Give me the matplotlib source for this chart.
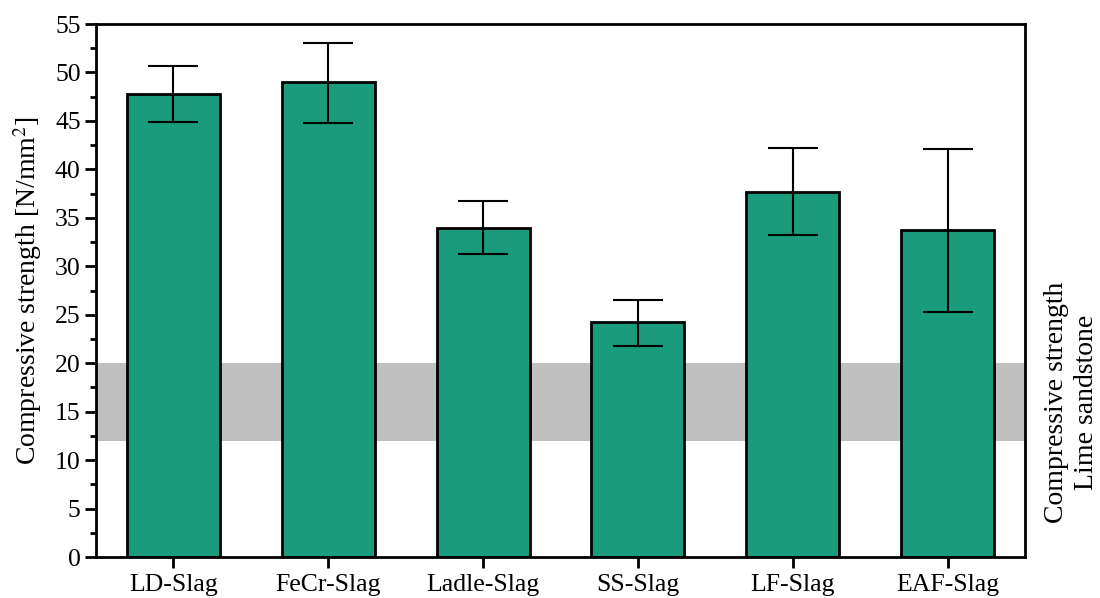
import matplotlib
matplotlib.use("Agg")
import matplotlib.pyplot as plt
from matplotlib.ticker import MultipleLocator

categories = ["LD-Slag", "FeCr-Slag", "Ladle-Slag", "SS-Slag", "LF-Slag", "EAF-Slag"]
means = [47.8, 49.0, 34.0, 24.2, 37.7, 33.7]
err_up = [2.9, 4.0, 2.7, 2.35, 4.5, 8.4]
err_down = [2.9, 4.2, 2.7, 2.4, 4.5, 8.4]
band_low, band_high = 12, 20
band_label = "Compressive strength\nLime sandstone"

plt.rcParams['font.family'] = ['Liberation Serif', 'DejaVu Serif']
plt.rcParams['mathtext.fontset'] = 'stix'

fig = plt.figure(figsize=(11, 5.98), dpi=100)
ax = fig.add_axes([96/1100, 1 - 557/598, (1025-96)/1100, (557-24)/598])

x = list(range(len(categories)))
ax.axhspan(band_low, band_high, color='#c0c0c0', zorder=0, lw=0)
ax.bar(x, means, width=0.6, color='#1a9b7b', edgecolor='black', linewidth=2, zorder=2)
ax.errorbar(x, means, yerr=[err_down, err_up], fmt='none', ecolor='black',
            elinewidth=1.5, capsize=18, capthick=1.5, zorder=3)

ax.set_xlim(-0.5, 5.5)
ax.set_ylim(0, 55)
ax.set_xticks(x)
ax.set_xticklabels(categories, fontsize=18.5)
ax.yaxis.set_major_locator(MultipleLocator(5))
ax.yaxis.set_minor_locator(MultipleLocator(2.5))
ax.tick_params(axis='y', which='major', direction='out', length=8, width=2, labelsize=18.5, pad=3)
ax.tick_params(axis='y', which='minor', direction='out', length=4, width=2)
ax.tick_params(axis='x', which='major', direction='out', length=8, width=2, labelsize=18.5, pad=4)
for s in ax.spines.values():
    s.set_linewidth(2)

ax.set_ylabel("Compressive strength [N/mm$^2$]", fontsize=20, labelpad=8)
ax.text(1.050, (band_low + band_high) / 2, band_label, rotation=90, fontsize=20,
        ha='center', va='center', transform=ax.get_yaxis_transform(),
        multialignment='center', linespacing=1.25)

fig.savefig("out.png", dpi=100)
